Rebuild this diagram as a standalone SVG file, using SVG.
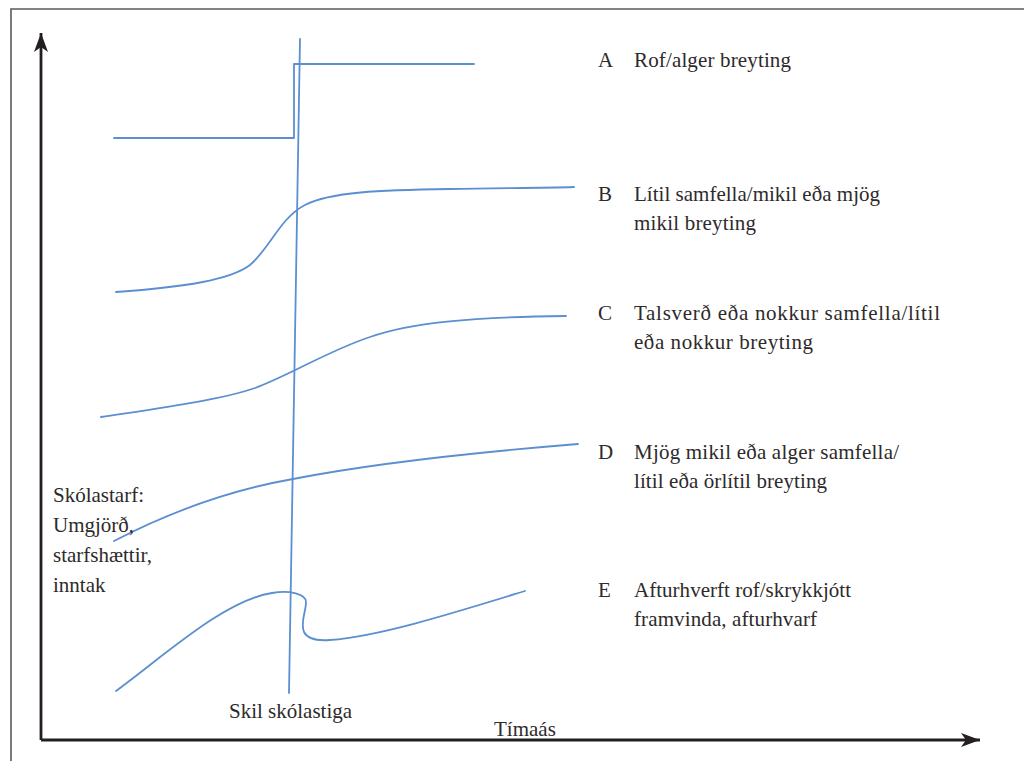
<svg xmlns="http://www.w3.org/2000/svg" width="1024" height="761" viewBox="0 0 1024 761">
  <defs>
    <style>
      .frame { fill: none; stroke: #5a5a5a; stroke-width: 1.6; }
      .axis { fill: none; stroke: #231f20; stroke-width: 2.8; }
      .curve { fill: none; stroke: #5b8fd0; stroke-width: 1.8; stroke-linejoin: round; stroke-linecap: round; }
      text { font-size: 21px; fill: #2e2a2b; }
    </style>
    <marker id="arrow" markerWidth="20" markerHeight="14" viewBox="0 0 20 14" refX="19" refY="7" orient="auto" markerUnits="userSpaceOnUse">
      <path d="M0,0 L19,7 L0,14 L5,7 Z" fill="#231f20"/>
    </marker>
  </defs>

  <rect width="1024" height="761" fill="#ffffff"/>

  <!-- outer frame (top and left edges) -->
  <path class="frame" d="M11,761 V9 H1024"/>

  <!-- axes -->
  <g id="axes">
    <path class="axis" d="M41,740 V33" marker-end="url(#arrow)"/>
    <path class="axis" d="M41,740 H980" marker-end="url(#arrow)"/>
  </g>

  <!-- curves -->
  <g id="connectors">
    <path id="boundary" class="curve" d="M300,39 L289,693"/>
    <path id="curve-a" class="curve" d="M114,138 H294 V64 H474"/>
    <path id="curve-b" class="curve" d="M116,292 C185,287 230,280 250,265 C270,248 280,218 305,205 C330,192 380,190 450,189 C500,188 540,188 574,187"/>
    <path id="curve-c" class="curve" d="M101,417 C160,408 220,400 255,388 C290,375 330,350 370,337 C410,323 470,317 566,316"/>
    <path id="curve-d" class="curve" d="M114,541 C170,512 230,490 293,479 C380,462 480,452 578,444"/>
    <path id="curve-e" class="curve" d="M116,691 C165,655 225,600 272,593 C290,590 306,594 306,602 C306,612 300,622 304,632 C308,640 318,641 330,640 C380,636 450,614 525,591"/>
  </g>

  <g font-family="'Liberation Serif', 'Times New Roman', serif">
    <!-- legend -->
    <g id="legend-a">
      <text x="598" y="67">A</text>
      <text x="634" y="67" textLength="157">Rof/alger breyting</text>
    </g>
    <g id="legend-b">
      <text x="598" y="201">B</text>
      <text x="634" y="201" textLength="246">Lítil samfella/mikil eða mjög</text>
      <text x="634" y="230" textLength="122">mikil breyting</text>
    </g>
    <g id="legend-c">
      <text x="598" y="320">C</text>
      <text x="634" y="320" textLength="306">Talsverð eða nokkur samfella/lítil</text>
      <text x="634" y="349" textLength="179">eða nokkur breyting</text>
    </g>
    <g id="legend-d">
      <text x="598" y="459">D</text>
      <text x="634" y="459" textLength="265">Mjög mikil eða alger samfella/</text>
      <text x="634" y="488" textLength="193">lítil eða örlítil breyting</text>
    </g>
    <g id="legend-e">
      <text x="598" y="597">E</text>
      <text x="634" y="597" textLength="217">Afturhverft rof/skrykkjótt</text>
      <text x="634" y="626" textLength="183">framvinda, afturhvarf</text>
    </g>

    <!-- axis labels -->
    <g id="y-label">
      <text x="53" y="502">Skólastarf:</text>
      <text x="53" y="532">Umgjörð,</text>
      <text x="53" y="562">starfshættir,</text>
      <text x="53" y="592">inntak</text>
    </g>
    <g id="boundary-label">
      <text x="229" y="718">Skil skólastiga</text>
    </g>
    <g id="x-label">
      <text x="494" y="736">Tímaás</text>
    </g>
  </g>
</svg>
